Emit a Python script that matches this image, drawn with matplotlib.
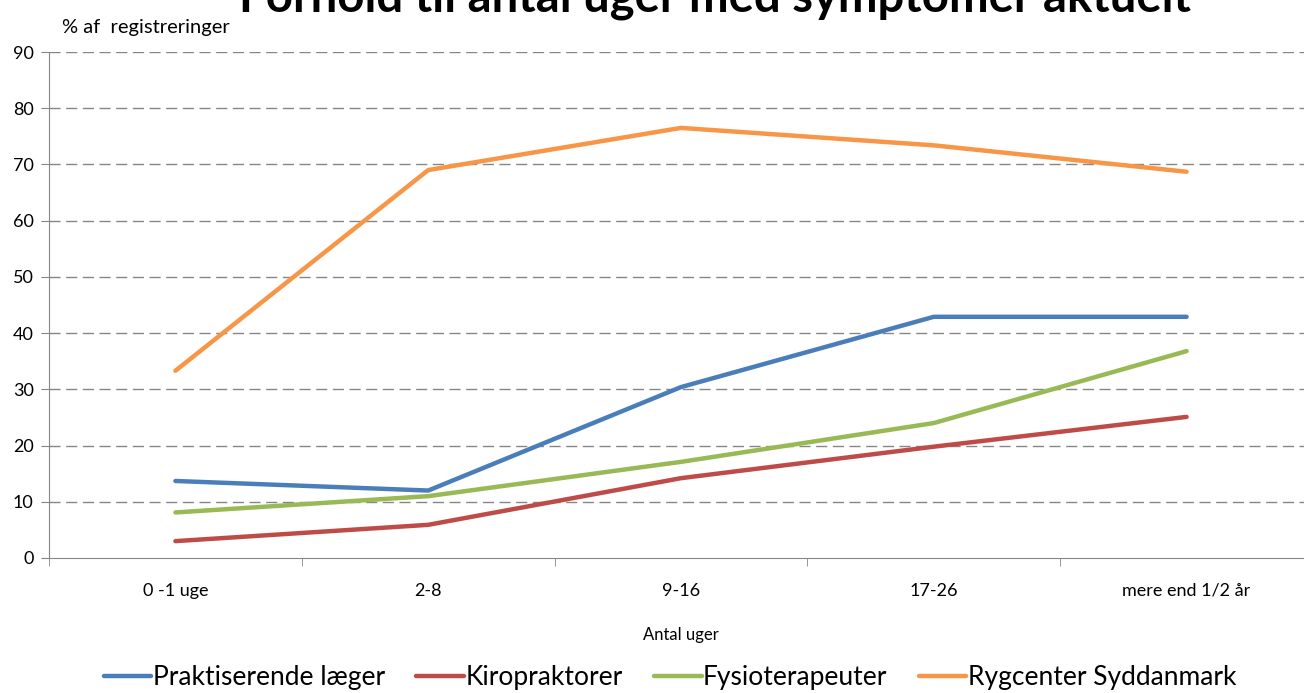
import matplotlib
matplotlib.use("Agg")
import matplotlib.pyplot as plt

categories = ["0 -1 uge", "2-8", "9-16", "17-26", "mere end 1/2 år"]
series_names = ["Praktiserende læger", "Kiropraktorer", "Fysioterapeuter", "Rygcenter Syddanmark"]
praktiserende = [13.7, 12.0, 30.4, 42.9, 42.9]
kiropraktorer = [3.0, 5.9, 14.2, 19.8, 25.1]
fysioterapeuter = [8.1, 11.0, 17.1, 24.0, 36.8]
rygcenter = [33.3, 69.0, 76.5, 73.4, 68.7]
colors = ["#4a7ebb", "#be4b48", "#98b954", "#f79646"]
yticks = [0, 10, 20, 30, 40, 50, 60, 70, 80, 90]

plt.rcParams['font.family'] = ['Lato', 'DejaVu Sans']
W, H = 1304, 693
fig = plt.figure(figsize=(W/100, H/100), dpi=100)
left, right, top, bottom = 49, 1313, 52, 558
ax = fig.add_axes([left/W, 1-bottom/H, (right-left)/W, (bottom-top)/H])

x = list(range(len(categories)))
for vals, name, c in zip([praktiserende, kiropraktorer, fysioterapeuter, rygcenter], series_names, colors):
    ax.plot(x, vals, color=c, lw=3.2, label=name, solid_capstyle='round', solid_joinstyle='round')

ax.set_xlim(-0.5, len(categories)-0.5)
ax.set_ylim(0, 90)
ax.set_yticks(yticks)
ax.set_yticklabels([str(v) for v in yticks], fontsize=13)
for v in yticks[1:]:
    ax.axhline(v, color="#868686", lw=1, dashes=(8, 4), zorder=0)
ax.set_xticks(x)
ax.set_xticklabels(categories, fontsize=13)
ax.set_xticks([i+0.5 for i in range(-1, len(categories))], minor=True)
ax.tick_params(axis='x', which='major', length=0, pad=18)
ax.tick_params(axis='x', which='minor', length=6, color="#868686")
ax.tick_params(axis='y', length=6, color="#868686", pad=5)
for s in ['top', 'right']:
    ax.spines[s].set_visible(False)
for s in ['left', 'bottom']:
    ax.spines[s].set_color("#868686")

ax.set_xlabel("Antal uger", fontsize=12, labelpad=20)
fig.text(62/W, 1-27/H, "% af  registreringer", fontsize=14.5, va='center', ha='left')
fig.text(715/W, 1-11/H, "Forhold til antal uger med symptomer aktuelt", fontsize=34,
         fontweight='bold', ha='center', va='baseline')

fig.legend(loc='center', bbox_to_anchor=(670/W, 1-678/H), ncol=4, fontsize=19, frameon=False,
           handlelength=1.8, handletextpad=0.05, columnspacing=1.2)

fig.savefig("out.png", dpi=100)
